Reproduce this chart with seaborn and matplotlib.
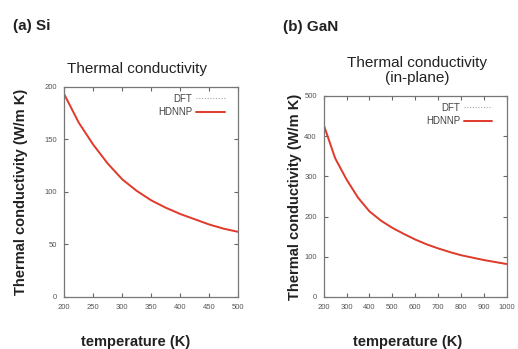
import matplotlib
matplotlib.use("Agg")
import matplotlib.pyplot as plt
import seaborn as sns

# Si data
si_temp = [200, 225, 250, 275, 300, 325, 350, 375, 400, 425, 450, 475, 500]
si_hdnnp = [193, 166, 145, 127, 112, 101, 92, 85, 79, 74, 69, 65, 62]
si_dft = [193, 166, 145, 127, 112, 101, 92, 85, 79, 74, 69, 65, 62]

# GaN data (in-plane)
gan_temp = [200, 250, 300, 350, 400, 450, 500, 550, 600, 650, 700, 750, 800, 850, 900, 950, 1000]
gan_hdnnp = [428, 345, 292, 247, 213, 190, 172, 157, 143, 131, 121, 112, 104, 98, 92, 87, 82]
gan_dft = [428, 345, 292, 247, 213, 190, 172, 157, 143, 131, 121, 112, 104, 98, 92, 87, 82]

sns.set_style("ticks")
plt.rcParams['font.family'] = ['Liberation Sans', 'DejaVu Sans']

fig = plt.figure(figsize=(5.18, 3.49), dpi=100)
ax1 = fig.add_axes([0.124, 0.149, 0.336, 0.602])
ax2 = fig.add_axes([0.625, 0.149, 0.353, 0.576])


def style_panel(ax, temp, dft, hdnnp, xticks, ylim, yticks, title, xlab_x, xlab_y, title_x, ypad):
    sns.lineplot(x=temp, y=dft, ax=ax, color="#aaaaaa", lw=0.8,
                 linestyle=(0, (1, 1.5)), label="DFT")
    sns.lineplot(x=temp, y=hdnnp, ax=ax, color="#e03a2a", lw=1.4, label="HDNNP")
    ax.set_xlim(xticks[0], xticks[-1])
    ax.set_ylim(*ylim)
    ax.set_xticks(xticks)
    ax.set_yticks(yticks)
    ax.tick_params(direction="in", top=True, right=True, length=3,
                   labelsize=5.5, labelcolor="#555555", color="#666666", width=0.8, pad=5)
    for s in ax.spines.values():
        s.set_color("#777777")
        s.set_linewidth(0.9)
    ax.set_xlabel("temperature (K)", fontsize=10.5, fontweight="bold", color="#222222")
    ax.xaxis.set_label_coords(xlab_x, xlab_y)
    ax.set_ylabel("Thermal conductivity (W/m K)", fontsize=10.5, fontweight="bold",
                  color="#222222", labelpad=ypad)
    ax.set_title(title, fontsize=11, color="#222222", pad=10, linespacing=1.1, x=title_x)
    leg = ax.legend(loc="upper right", frameon=False, fontsize=7, handlelength=2.9,
                    handletextpad=0.4, markerfirst=False, borderaxespad=0.3,
                    labelspacing=0.35, bbox_to_anchor=(0.96, 1.0))
    for t in leg.get_texts():
        t.set_color("#444444")


style_panel(ax1, si_temp, si_dft, si_hdnnp, [200, 250, 300, 350, 400, 450, 500],
            (0, 200), [0, 50, 100, 150, 200], "Thermal conductivity", 0.41, -0.18, 0.42, 12)
style_panel(ax2, gan_temp, gan_dft, gan_hdnnp, list(range(200, 1001, 100)),
            (0, 500), [0, 100, 200, 300, 400, 500], "Thermal conductivity\n(in-plane)",
            0.46, -0.19, 0.51, 2)

fig.text(0.025, 0.915, "(a) Si", fontsize=11, fontweight="bold", color="#222222")
fig.text(0.546, 0.912, "(b) GaN", fontsize=11, fontweight="bold", color="#222222")

fig.savefig("out.png", dpi=100)
